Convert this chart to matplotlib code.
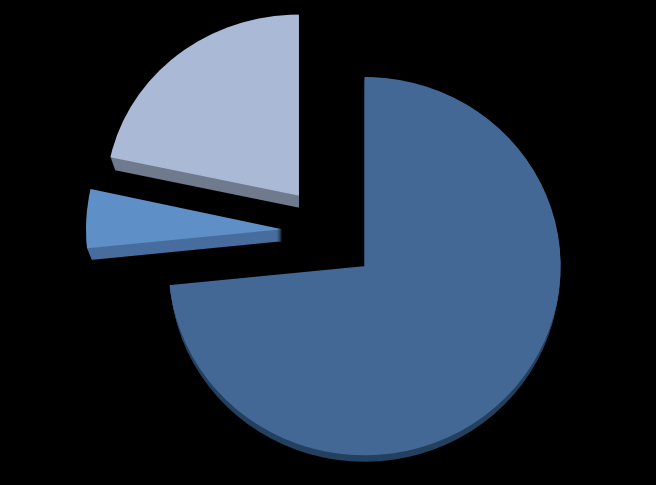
import numpy as np
import matplotlib.pyplot as plt
from matplotlib.transforms import Affine2D

# slice sizes (percent), clockwise from 12 o'clock
slices = ['big', 'small', 'medium']
values = [73.4, 5.0, 21.6]

# styles
top_colors = ['#436896', '#5E8FC6', '#A9B9D6']
wall_colors = ['#24405F', '#466D9E', '#6F7A8C']
depths = [8, 12, 12]       # wall height, px
shrink = [0.001, 0.002, 0.002]   # walls narrow a little going down (perspective)
radii = [1.0, 1.0, 0.984]
squash = [0.995, 1.0, 0.968]   # extra vertical flattening per slice
nudge = [(1, -3), (2, 0), (1, 0)]  # px offset of each slice
explode = [0.245, 0.245, 0.245]

# pixels per data unit and pie centre in the 656x485 picture
sx, sy = 196.0, 190.0
cx, cy = 328.0, 232.0

fig, ax = plt.subplots(figsize=(6.56, 4.852), dpi=100)
fig.patch.set_facecolor('black')
ax.set_position([0, 0, 1, 1])


def draw_slice(i, color, r, y_off):
    cols = [color if j == i else 'none' for j in range(len(values))]
    center = (nudge[i][0] / sx, (nudge[i][1] - y_off) / sy)
    wedges, _ = ax.pie(values, explode=explode, colors=cols, startangle=90, counterclock=False,
                       center=center, radius=r, wedgeprops={'linewidth': 0})
    w = wedges[i]
    x0, y0 = w.center
    w.set_transform(Affine2D().translate(-x0, -y0).scale(1, squash[i]).translate(x0, y0) + ax.transData)


for i in range(len(values)):
    for d in range(depths[i], 0, -1):
        draw_slice(i, wall_colors[i], radii[i] * (1 - d * shrink[i]), d)
    draw_slice(i, top_colors[i], radii[i], 0)

ax.set_aspect('auto')
ax.set_xlim(-cx / sx, (656 - cx) / sx)
ax.set_ylim((cy - 485) / sy, cy / sy)
ax.axis('off')

fig.savefig('out.png', dpi=100, facecolor='black')
